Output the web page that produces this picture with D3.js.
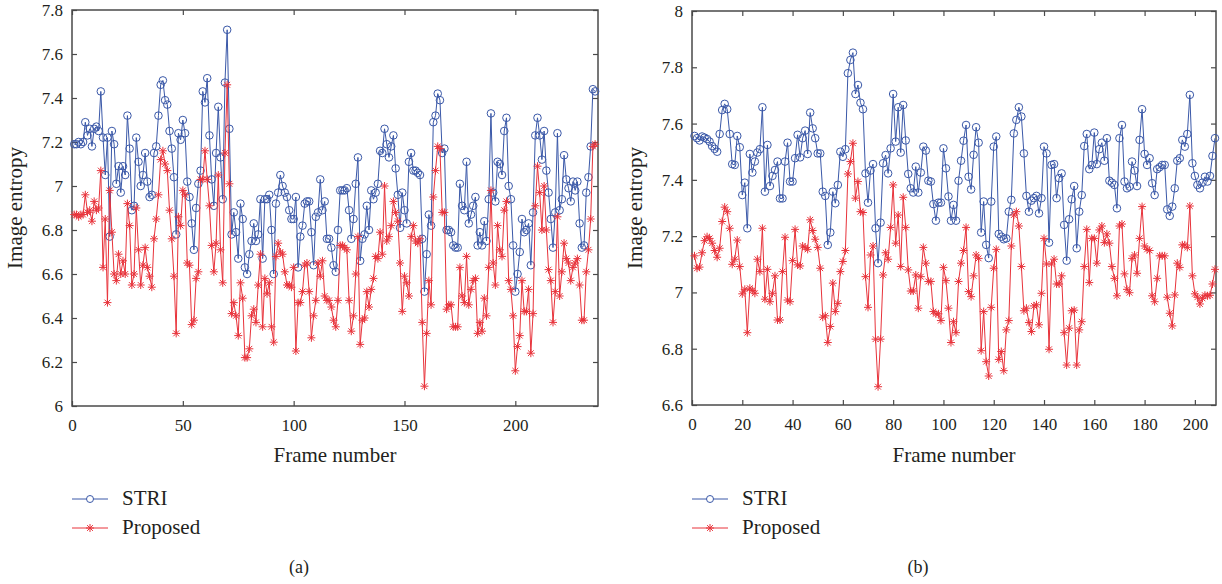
<!DOCTYPE html>
<html>
<head>
<meta charset="utf-8">
<script src="https://cdn.jsdelivr.net/npm/d3@7"></script>
<style>
  body { margin: 0; background: #fff; }
  svg { display: block; }
  text { font-family: "Liberation Serif", "DejaVu Serif", serif; fill: #231f20; }
</style>
</head>
<body>
<script>
// panel (a): 236 frames
const striA = [
  7.19, 7.19, 7.20, 7.19, 7.20, 7.29, 7.23, 7.26, 7.18, 7.26,
  7.27, 7.25, 7.43, 7.22, 7.05, 7.22, 6.77, 7.25, 7.19, 7.01,
  7.09, 6.97, 7.09, 7.05, 7.32, 7.17, 6.89, 6.91, 7.22, 7.11,
  7.00, 7.05, 7.15, 7.02, 6.95, 6.96, 7.15, 7.18, 7.32, 7.46,
  7.48, 7.39, 7.37, 7.25, 7.17, 7.04, 6.78, 7.24, 7.21, 7.30,
  7.24, 7.02, 6.95, 6.83, 6.71, 6.90, 7.01, 7.07, 7.43, 7.38,
  7.49, 7.23, 7.03, 6.91, 7.15, 7.36, 7.13, 6.94, 7.47, 7.71,
  7.26, 6.78, 6.88, 6.79, 6.67, 6.92, 6.85, 6.63, 6.60, 6.69,
  6.75, 6.83, 6.75, 6.78, 6.94, 6.67, 6.94, 6.94, 6.96, 6.80,
  6.60, 6.92, 6.97, 7.05, 7.00, 6.97, 6.95, 6.89, 6.85, 6.85,
  6.95, 6.63, 6.77, 6.82, 6.92, 6.93, 6.93, 6.79, 6.64, 6.86,
  6.88, 7.03, 6.89, 6.93, 6.76, 6.76, 6.72, 6.64, 6.61, 6.80,
  6.98, 6.98, 6.98, 6.99, 6.89, 6.76, 6.85, 7.01, 7.13, 6.66,
  6.76, 6.78, 6.91, 6.80, 6.98, 6.94, 6.97, 7.01, 7.16, 7.15,
  7.26, 7.19, 7.13, 7.18, 7.23, 7.08, 6.96, 6.81, 6.97, 6.89,
  6.83, 7.11, 7.15, 7.07, 7.07, 7.06, 7.05, 6.76, 6.52, 6.69,
  6.87, 6.82, 7.29, 7.32, 7.42, 7.39, 7.15, 7.17, 6.80, 6.80,
  6.79, 6.73, 6.72, 6.72, 7.01, 6.91, 6.89, 7.11, 6.83, 6.87,
  6.91, 6.95, 6.73, 6.79, 6.73, 6.84, 6.75, 6.94, 7.33, 6.97,
  6.93, 7.11, 7.10, 7.05, 7.25, 7.31, 7.00, 6.94, 6.73, 6.52,
  6.60, 6.70, 6.85, 6.79, 6.80, 6.83, 6.64, 6.88, 7.23, 7.31,
  7.23, 7.12, 7.25, 7.07, 6.97, 6.85, 6.72, 6.88, 7.24, 6.89,
  6.94, 7.14, 7.03, 6.99, 6.93, 7.02, 6.98, 7.02, 6.83, 6.72,
  6.73, 6.97, 7.04, 7.18, 7.44, 7.43
];
const proposedA = [
  6.87, 6.87, 6.86, 6.87, 6.87, 6.96, 6.88, 6.89, 6.84, 6.93,
  6.89, 6.90, 7.07, 6.63, 6.85, 6.47, 6.98, 6.79, 6.60, 6.57,
  6.69, 6.60, 6.66, 6.60, 6.92, 6.82, 6.55, 6.60, 6.90, 6.71,
  6.55, 6.64, 6.72, 6.63, 6.59, 6.54, 6.76, 6.85, 6.96, 7.12,
  7.16, 7.10, 7.07, 6.89, 6.76, 6.59, 6.33, 6.86, 6.82, 6.98,
  6.96, 6.65, 6.64, 6.37, 6.39, 6.58, 6.61, 7.03, 7.03, 7.16,
  7.03, 6.91, 6.73, 6.61, 6.74, 7.05, 6.71, 6.56, 7.15, 7.46,
  7.01, 6.42, 6.47, 6.41, 6.32, 6.56, 6.49, 6.22, 6.22, 6.26,
  6.41, 6.44, 6.38, 6.55, 6.69, 6.36, 6.58, 6.51, 6.56, 6.36,
  6.29, 6.68, 6.74, 6.70, 6.69, 6.61, 6.55, 6.55, 6.54, 6.63,
  6.25, 6.47, 6.47, 6.52, 6.64, 6.65, 6.52, 6.31, 6.41, 6.48,
  6.65, 6.59, 6.66, 6.50, 6.48, 6.48, 6.45, 6.39, 6.36, 6.48,
  6.73, 6.73, 6.72, 6.71, 6.48, 6.34, 6.41, 6.60, 6.77, 6.28,
  6.39, 6.40, 6.52, 6.45, 6.53, 6.58, 6.68, 6.67, 6.79, 6.69,
  7.00, 6.75, 6.77, 6.82, 6.93, 6.88, 6.84, 6.65, 6.43, 6.59,
  6.56, 6.50, 6.77, 6.82, 6.75, 6.74, 6.76, 6.38, 6.09, 6.33,
  6.57, 6.46, 6.95, 7.07, 7.18, 7.17, 6.88, 6.88, 6.44, 6.46,
  6.46, 6.36, 6.36, 6.36, 6.63, 6.50, 6.47, 6.68, 6.46, 6.53,
  6.57, 6.58, 6.33, 6.38, 6.34, 6.49, 6.41, 6.63, 6.98, 6.65,
  6.55, 6.82, 6.71, 6.68, 6.89, 6.93, 6.57, 6.53, 6.41, 6.16,
  6.27, 6.32, 6.57, 6.43, 6.43, 6.53, 6.24, 6.42, 6.91, 7.09,
  6.97, 6.80, 7.00, 6.80, 6.62, 6.57, 6.38, 6.52, 6.86, 6.50,
  6.61, 6.74, 6.67, 6.65, 6.57, 6.63, 6.65, 6.67, 6.55, 6.39,
  6.39, 6.61, 6.71, 6.85, 7.18, 7.19
];

// panel (b): 208 frames
const striB = [
  7.556, 7.548, 7.540, 7.554, 7.550, 7.545, 7.536, 7.520, 7.510, 7.500,
  7.563, 7.648, 7.670, 7.651, 7.563, 7.456, 7.453, 7.556, 7.516, 7.346,
  7.390, 7.228, 7.492, 7.426, 7.465, 7.497, 7.509, 7.658, 7.358, 7.524,
  7.378, 7.414, 7.435, 7.465, 7.334, 7.334, 7.465, 7.532, 7.394, 7.394,
  7.477, 7.560, 7.480, 7.548, 7.575, 7.492, 7.639, 7.583, 7.548, 7.494,
  7.494, 7.358, 7.343, 7.169, 7.213, 7.358, 7.317, 7.382, 7.500, 7.482,
  7.509, 7.779, 7.826, 7.852, 7.705, 7.737, 7.674, 7.651, 7.423, 7.319,
  7.433, 7.456, 7.228, 7.104, 7.248, 7.459, 7.488, 7.423, 7.512, 7.705,
  7.536, 7.658, 7.497, 7.666, 7.540, 7.421, 7.370, 7.355, 7.447, 7.355,
  7.426, 7.518, 7.504, 7.397, 7.394, 7.314, 7.255, 7.319, 7.319, 7.512,
  7.441, 7.341, 7.255, 7.311, 7.255, 7.397, 7.468, 7.539, 7.595, 7.411,
  7.366, 7.489, 7.587, 7.532, 7.213, 7.323, 7.169, 7.122, 7.323, 7.518,
  7.554, 7.208, 7.198, 7.189, 7.192, 7.287, 7.329, 7.565, 7.613, 7.658,
  7.625, 7.494, 7.343, 7.287, 7.326, 7.335, 7.343, 7.281, 7.335, 7.518,
  7.494, 7.177, 7.453, 7.456, 7.335, 7.406, 7.423, 7.240, 7.113, 7.260,
  7.331, 7.378, 7.157, 7.287, 7.346, 7.520, 7.563, 7.438, 7.453, 7.568,
  7.456, 7.509, 7.532, 7.468, 7.548, 7.397, 7.390, 7.382, 7.299, 7.548,
  7.595, 7.394, 7.370, 7.376, 7.465, 7.433, 7.378, 7.542, 7.651, 7.492,
  7.453, 7.477, 7.388, 7.346, 7.438, 7.445, 7.453, 7.453, 7.295, 7.272,
  7.305, 7.370, 7.468, 7.477, 7.542, 7.518, 7.563, 7.702, 7.459, 7.414,
  7.382, 7.370, 7.390, 7.411, 7.394, 7.414, 7.485, 7.548
];
const proposedB = [
  7.130, 7.086, 7.090, 7.141, 7.184, 7.198, 7.192, 7.175, 7.149, 7.125,
  7.157, 7.252, 7.303, 7.287, 7.228, 7.100, 7.118, 7.186, 7.092, 6.995,
  7.011, 6.857, 7.015, 7.007, 6.997, 7.118, 7.074, 7.228, 6.976, 7.082,
  6.967, 6.997, 7.059, 6.902, 6.902, 7.074, 7.196, 6.973, 6.967, 7.113,
  7.224, 7.098, 7.094, 7.165, 7.160, 7.153, 7.258, 7.220, 7.189, 7.160,
  7.086, 6.912, 6.917, 6.822, 6.879, 7.033, 6.932, 6.961, 7.074, 7.110,
  7.149, 7.421, 7.465, 7.530, 7.335, 7.394, 7.287, 7.284, 7.056, 6.947,
  7.133, 7.165, 6.834, 6.665, 6.834, 7.062, 7.141, 7.118, 7.231, 7.382,
  7.175, 7.275, 7.092, 7.338, 7.231, 7.080, 7.005, 7.005, 7.062, 6.944,
  7.056, 7.160, 7.104, 7.039, 7.039, 6.932, 6.924, 6.924, 6.900, 7.089,
  7.042, 6.944, 6.822, 6.896, 6.857, 7.039, 7.104, 7.149, 7.231, 7.003,
  6.985, 7.059, 7.133, 7.121, 6.793, 6.932, 6.754, 6.703, 6.947, 7.086,
  7.153, 6.762, 6.790, 6.722, 6.867, 6.900, 7.165, 7.275, 7.287, 7.236,
  7.092, 6.935, 6.944, 6.893, 6.861, 6.952, 6.956, 6.885, 6.997, 7.192,
  7.101, 6.798, 7.101, 7.118, 7.030, 7.030, 7.059, 6.857, 6.742, 6.873,
  6.935, 6.937, 6.742, 6.867, 6.896, 7.092, 7.224, 7.035, 7.192, 7.192,
  7.104, 7.222, 7.236, 7.177, 7.208, 7.175, 7.092, 7.050, 6.988, 7.236,
  7.243, 7.066, 7.011, 6.999, 7.121, 7.133, 7.068, 7.192, 7.305, 7.165,
  7.153, 7.149, 6.988, 6.967, 7.050, 7.130, 7.130, 7.130, 6.983, 6.926,
  6.881, 6.991, 7.104, 7.089, 7.169, 7.169, 7.160, 7.307, 7.059, 6.995,
  6.983, 6.959, 6.979, 6.990, 6.988, 6.990, 7.030, 7.082
];

const xTicksA = [0, 50, 100, 150, 200];
const yTicksA = [6, 6.2, 6.4, 6.6, 6.8, 7, 7.2, 7.4, 7.6, 7.8];
const xTicksB = [0, 20, 40, 60, 80, 100, 120, 140, 160, 180, 200];
const yTicksB = [6.6, 6.8, 7, 7.2, 7.4, 7.6, 7.8, 8];
const seriesNames = ['STRI', 'Proposed'];
const panelLabels = ['(a)', '(b)'];

const BLUE = '#3a58a8';
const RED = '#e8333b';
const AXIS = '#4a4a4a';
const SERIF = '"Liberation Serif", "DejaVu Serif", serif';

const svg = d3.select('body').append('svg').
  attr('width', 1222).
  attr('height', 584).
  attr('font-family', SERIF);

svg.append('rect').attr('width', 1222).attr('height', 584).attr('fill', '#fff');

const fmt = d => String(+d.toFixed(1));

// MATLAB-style '*' marker: plus + cross
const star = 'M-4,0H4M0,-4V4M-2.9,-2.9L2.9,2.9M-2.9,2.9L2.9,-2.9';

// strip d3's default axis font so the serif face is used
const styleAxis = a => {
  a.attr('font-family', SERIF).attr('font-size', 17);
  a.select('.domain').remove();
  a.selectAll('text').attr('font-family', SERIF).attr('fill', '#231f20');
};

const drawPanel = p => {
  const x = d3.scaleLinear().domain(p.xDomain).range([p.left, p.right]);
  const y = d3.scaleLinear().domain(p.yDomain).range([p.bottom, p.top]);
  const g = svg.append('g');

  // ticks on all four sides, pointing inward
  g.append('g').
    attr('transform', `translate(0,${p.bottom})`).
    call(d3.axisBottom(x).tickValues(p.xTicks).tickSize(-5).tickSizeOuter(0).tickPadding(13).tickFormat(fmt)).
    call(styleAxis);
  g.append('g').
    attr('transform', `translate(0,${p.top})`).
    call(d3.axisTop(x).tickValues(p.xTicks).tickSize(-5).tickSizeOuter(0).tickFormat('')).
    call(styleAxis);
  g.append('g').
    attr('transform', `translate(${p.left},0)`).
    call(d3.axisLeft(y).tickValues(p.yTicks).tickSize(-5).tickSizeOuter(0).tickPadding(9).tickFormat(fmt)).
    call(styleAxis);
  g.append('g').
    attr('transform', `translate(${p.right},0)`).
    call(d3.axisRight(y).tickValues(p.yTicks).tickSize(-5).tickSizeOuter(0).tickFormat('')).
    call(styleAxis);
  g.selectAll('.tick line').attr('stroke', AXIS).attr('stroke-width', 1.2);

  g.append('rect').
    attr('x', p.left).attr('y', p.top).
    attr('width', p.right - p.left).attr('height', p.bottom - p.top).
    attr('fill', 'none').attr('stroke', AXIS).attr('stroke-width', 1.5);

  const line = d3.line().x((d, i) => x(i + 1)).y(d => y(d));

  // STRI
  g.append('path').datum(p.stri).
    attr('d', line).attr('fill', 'none').attr('stroke', BLUE).attr('stroke-width', 1);
  g.append('g').selectAll('circle').data(p.stri).join('circle').
    attr('cx', (d, i) => x(i + 1)).attr('cy', d => y(d)).attr('r', 3.8).
    attr('fill', 'none').attr('stroke', BLUE).attr('stroke-width', 1);

  // Proposed
  g.append('path').datum(p.proposed).
    attr('d', line).attr('fill', 'none').attr('stroke', RED).attr('stroke-width', 1);
  g.append('g').selectAll('path').data(p.proposed).join('path').
    attr('transform', (d, i) => `translate(${x(i + 1)},${y(d)})`).
    attr('d', star).attr('fill', 'none').attr('stroke', RED).attr('stroke-width', 1);

  // axis titles
  g.append('text').
    attr('transform', `translate(${p.left - 50},${(p.top + p.bottom) / 2}) rotate(-90)`).
    attr('text-anchor', 'middle').attr('font-size', 21).
    text('Image entropy');
  g.append('text').
    attr('x', (p.left + p.right) / 2).attr('y', 462).
    attr('text-anchor', 'middle').attr('font-size', 21).
    text('Frame number');

  // legend
  const legend = g.append('g').attr('transform', `translate(${p.left},0)`);
  [[BLUE, 499], [RED, 528]].forEach(([c, ly], i) => {
    legend.append('line').attr('x1', 0).attr('x2', 36).attr('y1', ly).attr('y2', ly).
      attr('stroke', c).attr('stroke-width', 1);
    if (i === 0) {
      legend.append('circle').attr('cx', 18).attr('cy', ly).attr('r', 3.5).
        attr('fill', '#fff').attr('stroke', c).attr('stroke-width', 1);
    } else {
      legend.append('path').attr('transform', `translate(18,${ly})`).attr('d', star).
        attr('fill', 'none').attr('stroke', c).attr('stroke-width', 1);
    }
    legend.append('text').attr('x', 50).attr('y', ly + 6).attr('font-size', 21).
      text(seriesNames[i]);
  });

  g.append('text').
    attr('x', p.labelX).attr('y', 573).
    attr('text-anchor', 'middle').attr('font-size', 18).
    text(p.label);
};

drawPanel({
  left: 72, right: 598, top: 10, bottom: 406,
  xDomain: [0, 237.3], yDomain: [6, 7.8],
  xTicks: xTicksA, yTicks: yTicksA,
  stri: striA, proposed: proposedA,
  label: panelLabels[0], labelX: 299
});

drawPanel({
  left: 692, right: 1216, top: 11, bottom: 405,
  xDomain: [0, 208.4], yDomain: [6.6, 8],
  xTicks: xTicksB, yTicks: yTicksB,
  stri: striB, proposed: proposedB,
  label: panelLabels[1], labelX: 918
});
</script>
</body>
</html>
